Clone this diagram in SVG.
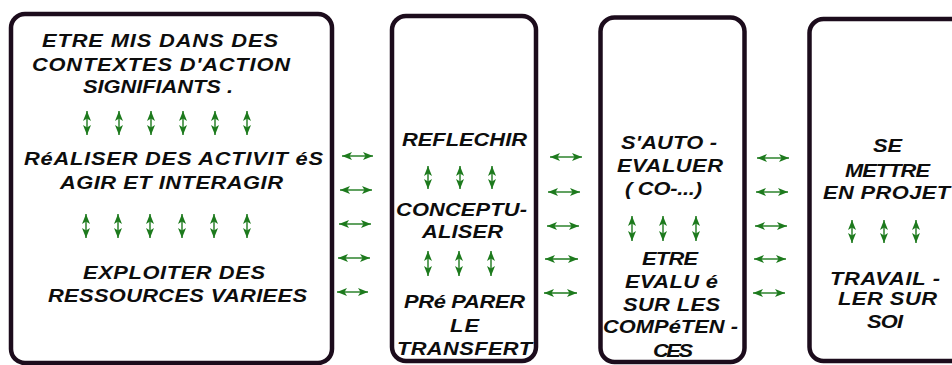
<svg xmlns="http://www.w3.org/2000/svg" width="952" height="365" viewBox="0 0 952 365">
  <style>
    .box { fill: #ffffff; stroke: #1c0c1c; stroke-width: 4.5; }
    .lbl { font-family: "Liberation Sans", Arial, sans-serif; font-weight: bold; font-style: italic; font-size: 17.5px; fill: #0d0d0d; }
    .arr { stroke: #1d7a1d; stroke-width: 1.4; fill: none; marker-start: url(#head); marker-end: url(#head); }
  </style>
  <defs>
    <marker id="head" viewBox="0 0 10 8" refX="10" refY="4" markerWidth="10" markerHeight="8" markerUnits="userSpaceOnUse" orient="auto-start-reverse">
      <path d="M0,0 L10,4 L0,8 L2.5,4 Z" fill="#1d7a1d"/>
    </marker>
  </defs>

  <rect width="952" height="365" fill="#ffffff"/>

  <!-- Column 1 -->
  <g id="node-contextes">
    <rect class="box" x="11" y="14" width="321" height="349" rx="14"/>
    <!-- labels are set in a widened face: x and lengths are in the scaled space -->
    <g transform="scale(1.25 1)">
      <text class="lbl" x="33.6" y="47" textLength="188.8">ETRE MIS DANS DES</text>
      <text class="lbl" x="25.6" y="71" textLength="206.4">CONTEXTES D'ACTION</text>
      <text class="lbl" x="66.4" y="93" textLength="120">SIGNIFIANTS .</text>
      <text class="lbl" x="19.2" y="165" textLength="239.2">RéALISER DES ACTIVIT éS</text>
      <text class="lbl" x="48" y="189" textLength="178.4">AGIR ET INTERAGIR</text>
      <text class="lbl" x="66.4" y="279" textLength="145.6">EXPLOITER DES</text>
      <text class="lbl" x="38.4" y="302" textLength="207.2">RESSOURCES VARIEES</text>
    </g>
    <path class="arr" d="M87,111 V135"/>
    <path class="arr" d="M119,111 V135"/>
    <path class="arr" d="M151,111 V135"/>
    <path class="arr" d="M183,111 V135"/>
    <path class="arr" d="M215,111 V135"/>
    <path class="arr" d="M247,111 V135"/>
    <path class="arr" d="M86,214 V238"/>
    <path class="arr" d="M118,214 V238"/>
    <path class="arr" d="M150,214 V238"/>
    <path class="arr" d="M182,214 V238"/>
    <path class="arr" d="M214,214 V238"/>
    <path class="arr" d="M247,214 V238"/>
  </g>

  <!-- Column 2 -->
  <g id="node-reflechir">
    <rect class="box" x="392" y="16" width="144" height="345" rx="14"/>
    <g transform="scale(1.25 1)">
      <text class="lbl" x="321.6" y="146" textLength="100">REFLECHIR</text>
      <text class="lbl" x="316.8" y="216" textLength="104.8">CONCEPTU-</text>
      <text class="lbl" x="337.6" y="238" textLength="64.8">ALISER</text>
      <text class="lbl" x="323.2" y="308" textLength="96.8">PRé PARER</text>
      <text class="lbl" x="360" y="332" textLength="23.2">LE</text>
      <text class="lbl" x="317.6" y="355" textLength="108">TRANSFERT</text>
    </g>
    <path class="arr" d="M428,166 V189"/>
    <path class="arr" d="M460,166 V189"/>
    <path class="arr" d="M492,166 V189"/>
    <path class="arr" d="M428,251 V276"/>
    <path class="arr" d="M459,251 V276"/>
    <path class="arr" d="M491,251 V276"/>
  </g>

  <!-- Column 3 -->
  <g id="node-evaluer">
    <rect class="box" x="600.5" y="17.5" width="144" height="344.5" rx="14"/>
    <g transform="scale(1.25 1)">
      <text class="lbl" x="496.8" y="149" textLength="76.8">S'AUTO -</text>
      <text class="lbl" x="493.6" y="172" textLength="84.8">EVALUER</text>
      <text class="lbl" x="500" y="195" textLength="61.6">( CO-...)</text>
      <text class="lbl" x="513.6" y="265" textLength="44.8">ETRE</text>
      <text class="lbl" x="500" y="288" textLength="74.4">EVALU é</text>
      <text class="lbl" x="498.4" y="311" textLength="77.6">SUR LES</text>
      <text class="lbl" x="482.4" y="333" textLength="108">COMPéTEN -</text>
      <text class="lbl" x="522.4" y="357" textLength="32">CES</text>
    </g>
    <path class="arr" d="M632,216 V241"/>
    <path class="arr" d="M663,216 V241"/>
    <path class="arr" d="M696,216 V241"/>
  </g>

  <!-- Column 4 -->
  <g id="node-projet">
    <rect class="box" x="809.5" y="19" width="170" height="342" rx="14"/>
    <g transform="scale(1.25 1)">
      <text class="lbl" x="698.4" y="152" textLength="23.2">SE</text>
      <text class="lbl" x="676" y="177" textLength="68">METTRE</text>
      <text class="lbl" x="658.4" y="199" textLength="101.6">EN PROJET</text>
      <text class="lbl" x="664" y="285" textLength="88">TRAVAIL -</text>
      <text class="lbl" x="670.4" y="305" textLength="79.2">LER SUR</text>
      <text class="lbl" x="693.6" y="328" textLength="28.8">SOI</text>
    </g>
    <path class="arr" d="M852,220 V243"/>
    <path class="arr" d="M884,220 V243"/>
    <path class="arr" d="M916,220 V243"/>
  </g>

  <!-- Links between columns -->
  <g id="connectors">
    <path class="arr" d="M342,156 H373"/>
    <path class="arr" d="M340,190 H372"/>
    <path class="arr" d="M339,224 H371"/>
    <path class="arr" d="M338,258 H370"/>
    <path class="arr" d="M337,292 H368"/>

    <path class="arr" d="M550,157 H582"/>
    <path class="arr" d="M548,192 H580"/>
    <path class="arr" d="M547,226 H579"/>
    <path class="arr" d="M545,259 H578"/>
    <path class="arr" d="M544,293 H577"/>

    <path class="arr" d="M757,158 H789"/>
    <path class="arr" d="M756,192 H788"/>
    <path class="arr" d="M755,226 H787"/>
    <path class="arr" d="M754,259 H786"/>
    <path class="arr" d="M753,293 H785"/>
  </g>
</svg>
